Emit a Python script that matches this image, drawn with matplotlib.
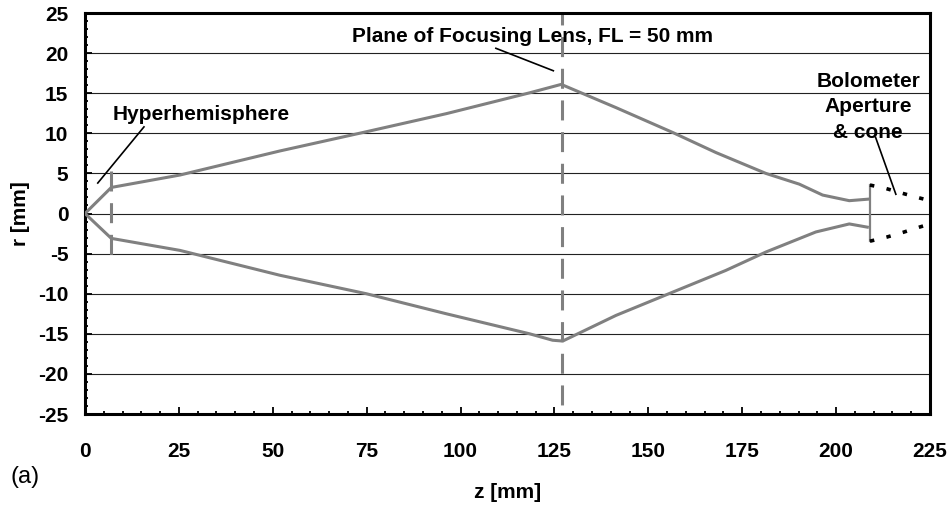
import matplotlib.pyplot as plt
import numpy as np

plt.rcParams['font.family'] = ['Liberation Sans', 'DejaVu Sans']
plt.rcParams['lines.scale_dashes'] = False
plt.rcParams['axes.unicode_minus'] = False

# upper ray trace (z in mm, r in mm)
upper_z = [0, 7, 25.3, 51.9, 74, 96.2, 118.4, 126.8, 141.4, 156.5, 168, 181.3, 190.2, 196.4, 203.5, 208.8]
upper_r = [0, 3.25, 4.8, 7.8, 10.1, 12.45, 15.05, 16.1, 13.2, 10.1, 7.6, 5.0, 3.66, 2.3, 1.6, 1.8]
# lower ray trace
lower_z = [0, 7, 25.3, 51.9, 74.9, 96.2, 118.4, 124.5, 127.2, 141.4, 156.5, 170.6, 181.3, 194.6, 203.5, 208.3]
lower_r = [0, -3.1, -4.6, -7.7, -10.0, -12.5, -15.0, -15.8, -15.9, -12.7, -9.8, -7.1, -4.8, -2.3, -1.3, -1.7]

# optical elements
hyper_z = 7
hyper_r = [5.3, -5.3]
lens_z = 127
aperture_z = 209
aperture_r = [3.6, -3.4]
cone_z = [209, 213.4, 217.8, 222.5, 225]
cone_upper_r = [3.55, 3.1, 2.5, 1.9, 1.6]
cone_lower_r = [-3.45, -2.95, -2.35, -1.65, -1.3]

gray = '#808080'

fig = plt.figure(figsize=(9.53, 5.08), dpi=100)
ax = fig.add_axes([0.0892, 0.185, 0.8867, 0.7894])

# horizontal gridlines
for yv in range(-20, 25, 5):
    ax.axhline(yv, color='#222222', lw=0.8, zorder=1)

ax.plot(upper_z, upper_r, color=gray, lw=2.2, zorder=3)
ax.plot(lower_z, lower_r, color=gray, lw=2.2, zorder=3)

ax.plot([hyper_z, hyper_z], hyper_r, color=gray, lw=2.2,
        linestyle=(0, (14.4, 8.4)), zorder=2)
ax.plot([lens_z, lens_z], [25, -25], color=gray, lw=2.2,
        linestyle=(5.8, (14.4, 8.4)), zorder=2)
ax.plot([aperture_z, aperture_z], aperture_r, color=gray, lw=1.6, zorder=3)

ax.plot(cone_z, cone_upper_r, color='black', lw=2.6, linestyle=(0, (3.2, 9.0)), zorder=3)
ax.plot(cone_z, cone_lower_r, color='black', lw=2.6, linestyle=(0, (3.2, 9.0)), zorder=3)

# annotations
ax.text(7.4, 12.4, 'Hyperhemisphere', fontsize=15, fontweight='bold', va='center', ha='left')
ax.plot([15.7, 3.4], [10.8, 3.8], color='black', lw=1.2, zorder=3)

ax.text(71.2, 22.1, 'Plane of Focusing Lens, FL = 50 mm', fontsize=15, fontweight='bold',
        va='center', ha='left')
ax.plot([109.4, 124.7], [20.6, 17.8], color='black', lw=1.2, zorder=3)

ax.text(208.5, 13.3, 'Bolometer\nAperture\n& cone', fontsize=15, fontweight='bold',
        va='center', ha='center', linespacing=1.45)
ax.plot([210.5, 215.9], [9.5, 2.4], color='black', lw=1.2, zorder=3)

ax.set_xlim(0, 225)
ax.set_ylim(-25, 25)
ax.set_xticks(np.arange(0, 226, 25))
ax.set_xticks(np.arange(0, 226, 5), minor=True)
ax.set_yticks(np.arange(-25, 26, 5))
ax.set_yticks(np.arange(-25, 26, 1), minor=True)

ax.tick_params(which='both', direction='in', width=1.3, labelsize=15)
ax.tick_params(which='major', length=5)
ax.tick_params(which='minor', length=2.5)
ax.tick_params(axis='x', pad=20)
ax.tick_params(axis='y', pad=12)
for lab in ax.get_xticklabels() + ax.get_yticklabels():
    lab.set_fontweight('bold')

for sp in ax.spines.values():
    sp.set_linewidth(2.2)

fig.text(508 / 953, 1 - 492 / 508, 'z [mm]', fontsize=15, fontweight='bold', ha='center', va='center')
fig.text(21 / 953, 1 - 214 / 508, 'r [mm]', fontsize=15, fontweight='bold', ha='center', va='center',
         rotation=90)
fig.text(11 / 953, 1 - 477 / 508, '(a)', fontsize=17, ha='left', va='center')

fig.savefig('out.png', dpi=100)
